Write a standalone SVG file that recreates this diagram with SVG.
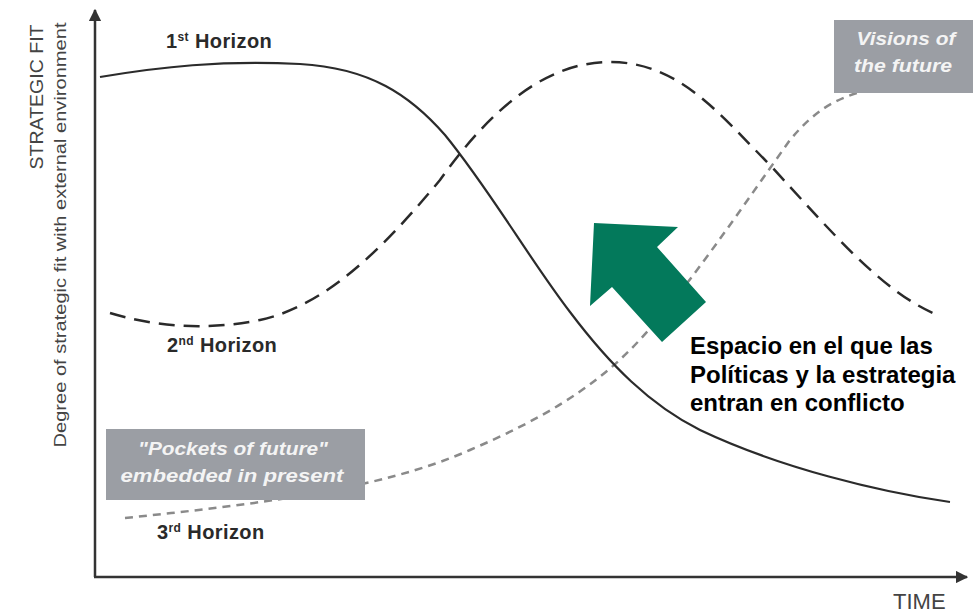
<svg xmlns="http://www.w3.org/2000/svg" width="978" height="613" viewBox="0 0 978 613">
<defs>
<style>
.axis{stroke:#333;stroke-width:2.5;fill:none}
.lbl{font-family:"Liberation Sans",Arial,sans-serif;fill:#444}
.hz{font-family:"Liberation Sans",Arial,sans-serif;font-weight:bold;fill:#2a2a2a;font-size:20px;letter-spacing:0.4px}
.box{fill:#9b9ea4}
.boxt{font-family:"Liberation Sans",Arial,sans-serif;font-weight:bold;font-style:italic;fill:#f4f4f4;font-size:19px;text-anchor:middle}
.es{font-family:"Liberation Sans",Arial,sans-serif;font-weight:bold;fill:#000;font-size:24px}
</style>
<marker id="ah" viewBox="0 0 10 10" refX="9" refY="5" markerWidth="5" markerHeight="5" orient="auto" markerUnits="strokeWidth">
<path d="M0,0 L10,5 L0,10 z" fill="#333"/>
</marker>
</defs>
<rect width="978" height="613" fill="#fff"/>
<g id="axes">
<line class="axis" x1="95" y1="577" x2="95" y2="10" marker-end="url(#ah)"/>
<line class="axis" x1="94" y1="577" x2="967" y2="577" marker-end="url(#ah)"/>
<text class="lbl" transform="translate(43,97) rotate(-90)" font-size="19" text-anchor="middle" textLength="145" lengthAdjust="spacingAndGlyphs">STRATEGIC FIT</text>
<text class="lbl" transform="translate(66,235) rotate(-90)" font-size="17" text-anchor="middle" textLength="425" lengthAdjust="spacingAndGlyphs">Degree of strategic fit with external environment</text>
<text class="lbl" x="893" y="609" font-size="22">TIME</text>
</g>
<g id="connectors">
<path id="h3" d="M125,518 C250,505 380,490 470,450 C540,420 590,390 630,350 C680,300 740,210 790,140 C815,110 835,100 857,93" fill="none" stroke="#8a8a8a" stroke-width="2.5" stroke-dasharray="8 6"/>
<path id="h2" d="M110,313 C150,325 200,332 260,320 C330,305 390,240 440,180 C490,110 545,62 610,62 C680,62 720,115 770,165 C830,230 880,290 935,314" fill="none" stroke="#2a2a2a" stroke-width="2.5" stroke-dasharray="16 9"/>
<path id="h1" d="M100,77 C160,67 220,60 300,64 C370,68 410,95 445,135 C490,190 530,260 570,312 C610,365 650,405 700,430 C780,468 880,492 950,502" fill="none" stroke="#2b2b2b" stroke-width="2.2"/>
</g>
<g id="label-h1"><text class="hz" x="166" y="48">1<tspan font-size="12" dy="-7">st</tspan><tspan dy="7"> Horizon</tspan></text></g>
<g id="label-h2"><text class="hz" x="167" y="352">2<tspan font-size="12" dy="-7">nd</tspan><tspan dy="7"> Horizon</tspan></text></g>
<g id="label-h3"><text class="hz" x="157" y="539">3<tspan font-size="12" dy="-7">rd</tspan><tspan dy="7"> Horizon</tspan></text></g>
<g id="pockets">
<rect class="box" x="106" y="429" width="259" height="71"/>
<text class="boxt" x="233" y="455" textLength="190" lengthAdjust="spacingAndGlyphs">"Pockets of future"</text>
<text class="boxt" x="232" y="482" textLength="223" lengthAdjust="spacingAndGlyphs">embedded in present</text>
</g>
<g id="visions">
<rect class="box" x="834" y="20" width="139" height="73"/>
<text class="boxt" x="906" y="45" textLength="99" lengthAdjust="spacingAndGlyphs">Visions of</text>
<text class="boxt" x="903" y="72" textLength="98" lengthAdjust="spacingAndGlyphs">the future</text>
</g>
<g id="arrow">
<polygon points="594,223 678,227 657,247 706,302 662,342 612,287 590,306" fill="#03795b"/>
</g>
<g id="conflict">
<text class="es" x="690" y="354">Espacio en el que las</text>
<text class="es" x="690" y="383">Políticas y la estrategia</text>
<text class="es" x="690" y="411">entran en conflicto</text>
</g>
</svg>
